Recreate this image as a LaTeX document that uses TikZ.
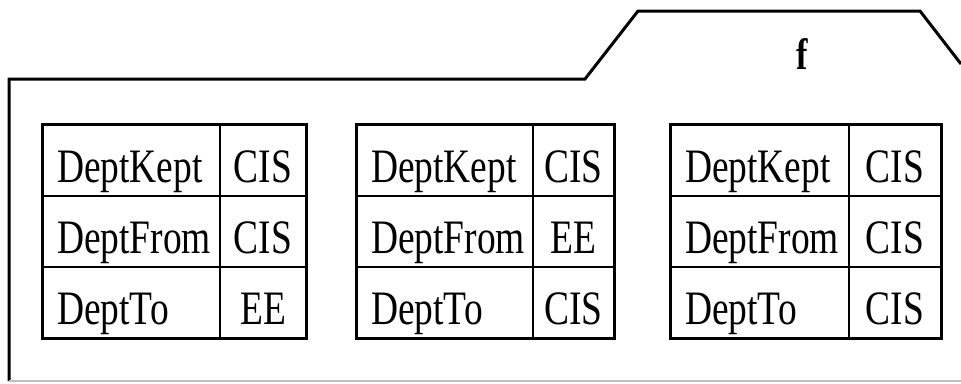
\documentclass[tikz,border=0pt]{standalone}
\usepackage{fontspec}
\setmainfont{Liberation Serif}[FakeStretch=0.78]
\newcommand\depttable[7]{%
  % #1 name prefix, #2 left edge, #3 column divider, #4 right edge, #5-#7 values
  \pgfmathsetmacro\kw{#3-#2-28}%
  \pgfmathsetmacro\vw{#4-#3}%
  \pgfmathsetmacro\kx{(#2+#3)/2}%
  \pgfmathsetmacro\vx{(#3+#4)/2}%
  \foreach \lab/\val/\r in {DeptKept/#5/1, DeptFrom/#6/2, DeptTo/#7/3} {%
    \pgfmathsetmacro\cy{125+71*(\r-0.5)}%
    \node[keycell, text width=\kw pt] (#1k\r) at (\kx,\cy) {\lab};
    \node[valcell, minimum width=\vw pt] (#1v\r) at (\vx,\cy) {\val};
  }%
  \draw[frame] (#1k1.north west) rectangle (#1v3.south east);
}
\begin{document}
\begin{tikzpicture}[x=1pt,y=-1pt,
  cell/.style={draw, line width=1.8pt, minimum height=71pt, inner ysep=0pt,
    text height=44pt, text depth=1pt,
    font=\fontsize{48}{48}\selectfont},
  keycell/.style={cell, inner xsep=14pt, align=left},
  valcell/.style={cell, inner xsep=0pt, align=center},
  frame/.style={line width=3pt},
  outline/.style={line width=3pt, line join=miter},
  faint/.style={line width=1.8pt, black!25}]
\useasboundingbox (0,0) rectangle (961,383);

% folder-shaped outline with its tab
\coordinate (tabR) at (961,64);
\coordinate (tabTR) at (920,11);
\coordinate (tabTL) at (638,11);
\coordinate (tabBL) at (585,79);
\coordinate (topL) at (9,79);
\coordinate (botL) at (9,381);
\coordinate (botR) at (961,381);
\draw[outline] (tabR) -- (tabTR) -- (tabTL) -- (tabBL) -- (topL) -- (botL);
\draw[faint] (botL) -- (botR);

\node[font=\fontsize{44}{44}\selectfont\bfseries] (flabel) at (802,54) {f};

% the three tuples
\depttable{a}{43}{220}{306}{CIS}{CIS}{EE}
\depttable{b}{357}{533}{614}{CIS}{EE}{CIS}
\depttable{c}{671}{849}{941}{CIS}{CIS}{CIS}
\end{tikzpicture}
\end{document}
